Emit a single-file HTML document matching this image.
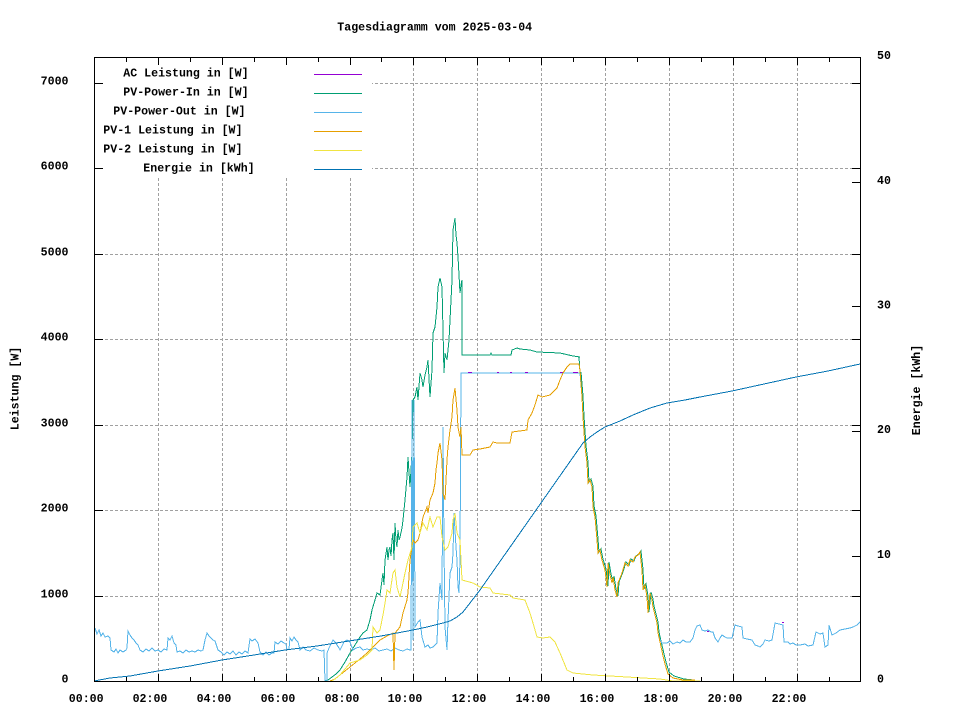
<!DOCTYPE html>
<html><head><meta charset="utf-8"><style>
html,body{margin:0;padding:0;background:#fff;width:960px;height:720px;overflow:hidden}
svg{display:block}
text{font-family:"Liberation Mono","DejaVu Sans Mono",monospace;font-weight:bold;font-size:11.6px;fill:#000}
.g{stroke:#a0a0a0;stroke-width:1;stroke-dasharray:3,2;fill:none}
.t{stroke:#000;stroke-width:1;fill:none}
.d{fill:none;stroke-width:1;stroke-linejoin:miter}
</style></head><body>
<svg width="960" height="720" viewBox="0 0 960 720" xmlns="http://www.w3.org/2000/svg" xmlns:xlink="http://www.w3.org/1999/xlink" shape-rendering="crispEdges">
<defs>
<polyline id="pvout" fill="none" points="95,628 97,634 99,630 101,636 103,633 105,637 108,636 110,638 111,650 114,652 116,649 118,653 120,650 123,652 126,650 127,648 128,631 130,635 132,638 134,640 136,643 138,645 140,650 143,652 146,649 149,651 152,648 155,651 158,650 161,652 164,649 167,650 168,638 170,640 172,636 174,643 176,645 177,652 180,651 183,653 186,650 189,652 192,651 195,652 198,650 201,651 203,650 205,640 207,633 209,636 211,638 213,640 215,641 218,650 221,652 224,655 227,652 230,654 233,651 236,655 239,652 242,654 245,651 248,653 250,639 252,641 255,639 258,643 260,652 263,655 266,652 269,655 272,653 274,653 275,642 278,644 281,641 284,643 286,644 287,650 289,649 290,638 292,641 294,637 296,640 298,642 300,650 303,647 306,650 310,651 314,648 318,650 322,651 324,650 325,681 327,681 327,653 329,648 331,644 333,640 335,642 337,645 339,648 340,650 342,646 344,642 347,640 350,642 353,650 356,648 360,647 363,650 367,649 371,650 375,648 379,651 383,650 387,649 391,651 395,648 399,650 403,651 407,649 410,650 411,650 412,400 413,640 414,400 415,627 418,622 420,620 422,637 425,647 428,645 430,648 433,647 437,643 438,613 440,583 442,600 443,427 444,547 445,627 447,650 448,620 450,573 452,567 453,553 454,513 456,547 457,560 458,587 459,593 460,560 461,373 580,373 582,397 583,417 585,447 587,463 588,483 590,480 592,487 593,507 595,517 597,540 598,553 600,550 602,560 605,570 607,587 608,563 610,575 612,583 613,577 615,590 617,597 618,583 620,578 622,573 625,563 628,566 630,560 633,562 635,557 638,555 640,552 642,570 643,590 645,585 647,597 648,613 650,593 652,600 653,607 655,615 657,623 658,633 660,640 662,643 667,643 670,641 673,644 677,642 680,643 683,640 686,642 690,642 693,638 695,630 697,626 700,625 702,630 705,631 708,630 711,632 713,632 715,638 718,642 720,638 722,635 725,637 727,638 732,638 735,625 738,626 742,627 743,638 747,639 752,640 755,645 758,646 760,647 763,644 765,640 769,641 772,640 775,623 779,624 783,625 784,642 788,642 790,644 793,643 796,645 800,645 805,644 808,646 813,645 816,632 820,634 823,633 825,647 828,645 829,625 832,635 836,633 840,630 845,629 850,628 853,627 857,625 860,622"/>
</defs>
<!-- grid -->
<g class="g">
<path d="M158.5 58V681M222.5 58V681M286.5 58V681M350.5 58V681M413.5 58V681M477.5 58V681M541.5 58V681M605.5 58V681M669.5 58V681M733.5 58V681M797.5 58V681"/>
<path d="M95 596.5H860M95 510.5H860M95 425.5H860M95 339.5H860M95 254.5H860M95 168.5H860M95 83.5H860"/>
</g>

<!-- data -->
<g class="d">
<!-- AC (purple), hidden beneath PV-Power-Out -->
<use xlink:href="#pvout" href="#pvout" stroke="#9400d3"/>
<!-- PV-Power-In (green) -->
<polyline stroke="#009e73" points="325,681 328,680 332,677 336,674 340,670 345,662 350,653 355,645 360,637 363,633 367,630 370,620 372,610 375,600 377,593 380,595 382,580 383,573 384,585 385,560 387,547 388,560 389,550 390,547 391,556 392,540 393,533 394,560 395,523 396,540 397,547 398,530 399,540 400,537 402,528 403,520 405,500 407,477 408,457 410,487 412,453 413,400 415,397 417,387 418,400 420,373 422,380 423,387 425,375 427,367 428,360 430,397 432,370 433,333 435,327 437,307 438,287 440,278 442,287 443,330 444,373 445,353 447,360 449,340 451,300 452,280 453,230 455,218 456,235 457,243 458,257 460,293 461,285 462,280 462,355 490,355 491,353 492,355 511,355 512,350 517,348 520,349 530,350 537,352 560,353 573,356 580,357"/>
<polyline stroke="#009e73" transform="translate(1,-1)" points="580,373 582,397 583,417 585,447 587,463 588,483 590,480 592,487 593,507 595,517 597,540 598,553 600,550 602,560 605,570 607,587 608,563 610,575 612,583 613,577 615,590 617,597 618,583 620,578 622,573 625,563 628,566 630,560 633,562 635,557 638,555 640,552 642,570 643,590 645,585 647,597 648,613 650,593 652,600 653,607 655,615 657,623 658,633 660,642 663,655 665,663 668,673 673,677 683,680 693,681"/>
<polyline stroke="#009e73" points="579,357 580,373"/>
<!-- PV-Power-Out (light blue) -->
<use xlink:href="#pvout" href="#pvout" stroke="#56b4e9"/>
<!-- purple specks -->
<path stroke="#9400d3" d="M468 372.5H472M497 372.5H499M510 372.5H512M525 372.5H528M560 372.5H563M573 372.5H578M707 631.5H709M782 622.5H784"/>
<!-- PV-1 (orange) -->
<polyline stroke="#e69f00" points="330,681 335,679 340,675 345,671 350,667 355,663 360,659 367,653 373,647 380,640 387,636 393,633 394,670 395,633 400,627 403,613 407,600 408,593 410,560 412,547 413,540 415,543 418,540 420,533 423,517 427,507 428,513 430,500 433,493 435,483 436,470 437,463 438,453 440,443 442,460 443,493 445,500 447,460 448,447 450,430 452,417 453,400 455,388 457,410 458,427 460,437 461,427 462,455 470,455 473,450 480,449 490,447 493,442 497,443 510,443 512,432 527,430 528,420 532,413 535,405 538,395 542,397 550,395 557,388 560,380 563,373 567,367 570,364 579,364 580,370 582,397 583,417 585,447 587,463 588,483 590,480 592,487 593,507 595,517 597,540 598,553 600,550 602,560 605,570 607,587 608,563 610,575 612,583 613,577 615,590 617,597 618,583 620,578 622,573 625,563 628,566 630,560 633,562 635,557 638,555 640,552 642,570 643,590 645,585 647,597 648,613 650,593 652,600 653,607 655,615 657,623 658,633 660,642 663,656 665,664 668,674 673,678 683,680 695,680"/>
<!-- PV-2 (yellow) -->
<polyline stroke="#f0e442" points="332,681 340,675 350,663 360,660 367,655 372,650 373,627 377,633 380,630 383,615 385,603 387,590 390,593 393,573 395,570 397,587 400,597 403,583 405,573 408,560 412,547 413,527 417,523 420,533 423,523 427,530 430,517 433,527 437,517 440,517 442,537 445,550 448,547 452,533 453,520 455,513 457,533 460,540 462,580 473,583 480,587 490,588 493,593 510,595 513,598 525,600 530,613 533,623 537,637 543,638 550,637 555,642 560,653 567,670 573,673 593,675 627,677 660,679 673,681 700,681"/>
<!-- Energie (blue) -->
<polyline stroke="#0072b2" points="94,681 110,678 130,676 158,671 190,666 222,660 254,655 285,650 317,646 349,641 381,636 413,630 427,627 443,623 450,621 457,617 463,612 470,603 480,590 583,443 590,437 597,432 605,427 620,421 633,415 650,408 667,403 685,400 700,397 732,391 764,384 796,377 828,371 860,364"/>
</g>

<!-- legend box -->
<rect x="95" y="58" width="277" height="120" fill="#fff" shape-rendering="crispEdges"/>
<g class="d">
<path stroke="#9400d3" d="M314 74.5H362"/>
<path stroke="#009e73" d="M314 93.5H362"/>
<path stroke="#56b4e9" d="M314 112.5H362"/>
<path stroke="#e69f00" d="M314 131.5H362"/>
<path stroke="#f0e442" d="M314 150.5H362"/>
<path stroke="#0072b2" d="M314 169.5H362"/>
</g>
<text x="123.3" y="76.5">AC Leistung in [W]</text>
<text x="123.3" y="95.5">PV-Power-In in [W]</text>
<text x="113.3" y="114.5">PV-Power-Out in [W]</text>
<text x="103.3" y="133.5">PV-1 Leistung in [W]</text>
<text x="103.3" y="152.5">PV-2 Leistung in [W]</text>
<text x="143.3" y="171.5">Energie in [kWh]</text>

<!-- frame & ticks -->
<rect x="94.5" y="57.5" width="766" height="624" class="t"/>
<g class="t">
<path d="M158.5 681V674M222.5 681V674M286.5 681V674M350.5 681V674M413.5 681V674M477.5 681V674M541.5 681V674M605.5 681V674M669.5 681V674M733.5 681V674M797.5 681V674"/>
<path d="M126.5 681V677M190.5 681V677M254.5 681V677M318.5 681V677M381.5 681V677M445.5 681V677M509.5 681V677M573.5 681V677M637.5 681V677M701.5 681V677M765.5 681V677M829.5 681V677"/>
<path d="M158.5 58V65M222.5 58V65M286.5 58V65M350.5 58V65M413.5 58V65M477.5 58V65M541.5 58V65M605.5 58V65M669.5 58V65M733.5 58V65M797.5 58V65"/>
<path d="M126.5 58V62M190.5 58V62M254.5 58V62M318.5 58V62M381.5 58V62M445.5 58V62M509.5 58V62M573.5 58V62M637.5 58V62M701.5 58V62M765.5 58V62M829.5 58V62"/>
<path d="M95 596.5H103M95 510.5H103M95 425.5H103M95 339.5H103M95 254.5H103M95 168.5H103M95 83.5H103"/>
<path d="M852 596.5H860M852 510.5H860M852 425.5H860M852 339.5H860M852 254.5H860M852 168.5H860M852 83.5H860"/>
<path d="M852 556.5H860M852 431.5H860M852 306.5H860M852 182.5H860"/>
</g>

<!-- left tick labels -->
<g text-anchor="end">
<text x="68.5" y="682.5">0</text>
<text x="68.5" y="597.5">1000</text>
<text x="68.5" y="511.5">2000</text>
<text x="68.5" y="426.5">3000</text>
<text x="68.5" y="340.5">4000</text>
<text x="68.5" y="255.5">5000</text>
<text x="68.5" y="169.5">6000</text>
<text x="68.5" y="84.5">7000</text>
</g>
<!-- right tick labels -->
<text x="877" y="59">50</text>
<text x="877" y="184">40</text>
<text x="877" y="308.5">30</text>
<text x="877" y="433">20</text>
<text x="877" y="558">10</text>
<text x="877" y="682.5">0</text>
<!-- bottom tick labels -->
<g text-anchor="middle">
<text x="86.2" y="702">00:00</text>
<text x="150" y="702">02:00</text>
<text x="214" y="702">04:00</text>
<text x="278" y="702">06:00</text>
<text x="342" y="702">08:00</text>
<text x="405" y="702">10:00</text>
<text x="469" y="702">12:00</text>
<text x="533" y="702">14:00</text>
<text x="597" y="702">16:00</text>
<text x="661" y="702">18:00</text>
<text x="725" y="702">20:00</text>
<text x="789" y="702">22:00</text>
</g>
<!-- title and axis labels -->
<text x="337.3" y="30.5">Tagesdiagramm vom 2025-03-04</text>
<text transform="translate(18.5,388.5) rotate(-90)" text-anchor="middle">Leistung [W]</text>
<text transform="translate(920,390) rotate(-90)" text-anchor="middle">Energie [kWh]</text>
</svg>
</body></html>
